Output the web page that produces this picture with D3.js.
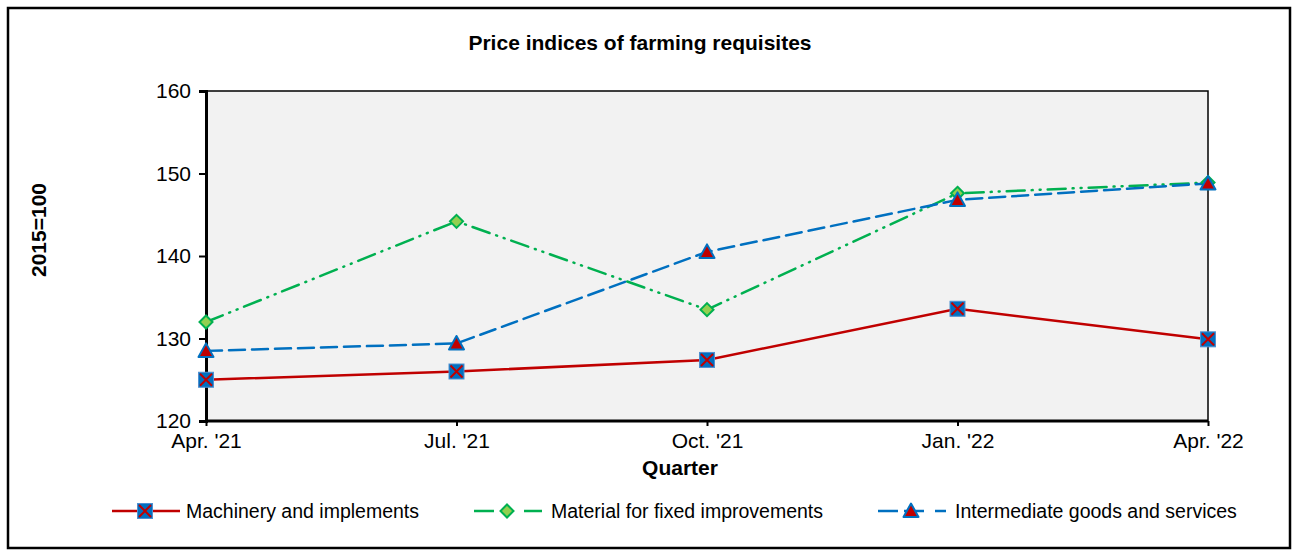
<!DOCTYPE html>
<html>
<head>
<meta charset="utf-8">
<script src="https://cdn.jsdelivr.net/npm/d3@7"></script>
<style>
  body { margin: 0; background: #fff; }
  svg text { font-family: Arial, "Liberation Sans", sans-serif; }
</style>
</head>
<body>
<svg id="chart" width="1298" height="553"></svg>
<script>
  // data
  const quarters = ["Apr. '21", "Jul. '21", "Oct. '21", "Jan. '22", "Apr. '22"];
  const machinery = [125.0, 126.0, 127.4, 133.6, 129.9];
  const material = [132.0, 144.2, 133.5, 147.6, 148.9];
  const intermediate = [128.5, 129.4, 140.5, 146.8, 148.8];
  const yTicks = [120, 130, 140, 150, 160];

  const series = [
    { name: "Machinery and implements", values: machinery, color: "#C00000", dash: null, legendDash: null, marker: "square" },
    { name: "Material for fixed improvements", values: material, color: "#00B050", dash: "18,7,1,7,1,7", legendDash: "20,30,20", marker: "diamond" },
    { name: "Intermediate goods and services", values: intermediate, color: "#0070C0", dash: "16,7", legendDash: "20,6,20,11,12", marker: "triangle" }
  ];

  const svg = d3.select("#chart");

  // outer frame
  svg.append("rect")
    .attr("x", 8).attr("y", 8).attr("width", 1282).attr("height", 540)
    .attr("fill", "#fff").attr("stroke", "#000").attr("stroke-width", 2.5);

  const plot = { left: 206, top: 91, right: 1208, bottom: 421 };

  let x = d3.scalePoint().domain(quarters).range([plot.left, plot.right]);
  let y = d3.scaleLinear().domain([120, 160]).range([plot.bottom, plot.top]);

  svg.append("rect")
    .attr("x", plot.left).attr("y", plot.top)
    .attr("width", plot.right - plot.left).attr("height", plot.bottom - plot.top)
    .attr("fill", "#F2F2F2").attr("stroke", "#000").attr("stroke-width", 1.5);

  // axes
  let yAxis = svg.append("g")
    .attr("transform", "translate(" + plot.left + ",0)")
    .call(d3.axisLeft(y).tickValues(yTicks).tickSize(7).tickPadding(8));
  yAxis.select(".domain").attr("stroke-width", 3);
  yAxis.selectAll("line").attr("stroke-width", 2);
  yAxis.selectAll("text").attr("font-size", 21).attr("fill", "#000");

  let xAxis = svg.append("g")
    .attr("transform", "translate(0," + plot.bottom + ")")
    .call(d3.axisBottom(x).tickSize(5).tickPadding(7));
  xAxis.select(".domain").attr("stroke-width", 3).attr("d", "M" + plot.left + ",0H" + plot.right);
  xAxis.selectAll("line").attr("stroke-width", 2);
  xAxis.selectAll("text").attr("font-size", 21).attr("fill", "#000");

  // titles
  svg.append("text").attr("x", 640).attr("y", 50).attr("text-anchor", "middle")
    .attr("font-size", 21).attr("font-weight", "bold").text("Price indices of farming requisites");
  svg.append("text").attr("x", 680).attr("y", 475).attr("text-anchor", "middle")
    .attr("font-size", 21).attr("font-weight", "bold").text("Quarter");
  svg.append("text").attr("transform", "translate(46,230) rotate(-90)").attr("text-anchor", "middle")
    .attr("font-size", 21).attr("font-weight", "bold").text("2015=100");

  const lineGen = d3.line()
    .x(function (d, i) { return x(quarters[i]); })
    .y(function (d) { return y(d); });

  function drawMarker(g, type, cx, cy) {
    if (type === "square") {
      g.append("rect").attr("x", cx - 7.5).attr("y", cy - 7.5).attr("width", 15).attr("height", 15)
        .attr("fill", "#0070C0").attr("stroke", "#4F8FD0").attr("stroke-width", 1);
      g.append("path").attr("d", "M" + (cx - 6) + "," + (cy - 6) + "L" + (cx + 6) + "," + (cy + 6) +
        "M" + (cx + 6) + "," + (cy - 6) + "L" + (cx - 6) + "," + (cy + 6))
        .attr("stroke", "#C00000").attr("stroke-width", 2);
    } else if (type === "diamond") {
      g.append("path").attr("d", "M" + cx + "," + (cy - 6.5) + "L" + (cx + 6.5) + "," + cy + "L" + cx + "," + (cy + 6.5) + "L" + (cx - 6.5) + "," + cy + "Z")
        .attr("fill", "#92D050").attr("stroke", "#00B050").attr("stroke-width", 2);
    } else {
      g.append("path").attr("d", "M" + cx + "," + (cy - 7.5) + "L" + (cx + 7.5) + "," + (cy + 6) + "L" + (cx - 7.5) + "," + (cy + 6) + "Z")
        .attr("fill", "#C00000").attr("stroke", "#0070C0").attr("stroke-width", 2).attr("stroke-linejoin", "round");
    }
  }

  series.forEach(function (s) {
    svg.append("path")
      .datum(s.values)
      .attr("d", lineGen)
      .attr("fill", "none")
      .attr("stroke", s.color)
      .attr("stroke-width", 2.5)
      .attr("stroke-dasharray", s.dash)
      .attr("stroke-linecap", "round");
  });

  series.forEach(function (s) {
    let g = svg.append("g");
    s.values.forEach(function (v, i) {
      drawMarker(g, s.marker, x(quarters[i]), y(v));
    });
  });

  // legend
  const legendX = [112, 474, 878];
  series.forEach(function (s, i) {
    let lx = legendX[i], ly = 511;
    let g = svg.append("g");
    g.append("line").attr("x1", lx).attr("x2", lx + 68).attr("y1", ly).attr("y2", ly)
      .attr("stroke", s.color).attr("stroke-width", 2.5).attr("stroke-dasharray", s.legendDash);
    drawMarker(g, s.marker, lx + 33, ly);
    g.append("text").attr("x", lx + (i === 0 ? 74 : 77)).attr("y", ly + 7).attr("font-size", 19.5).text(s.name);
  });
</script>
</body>
</html>
